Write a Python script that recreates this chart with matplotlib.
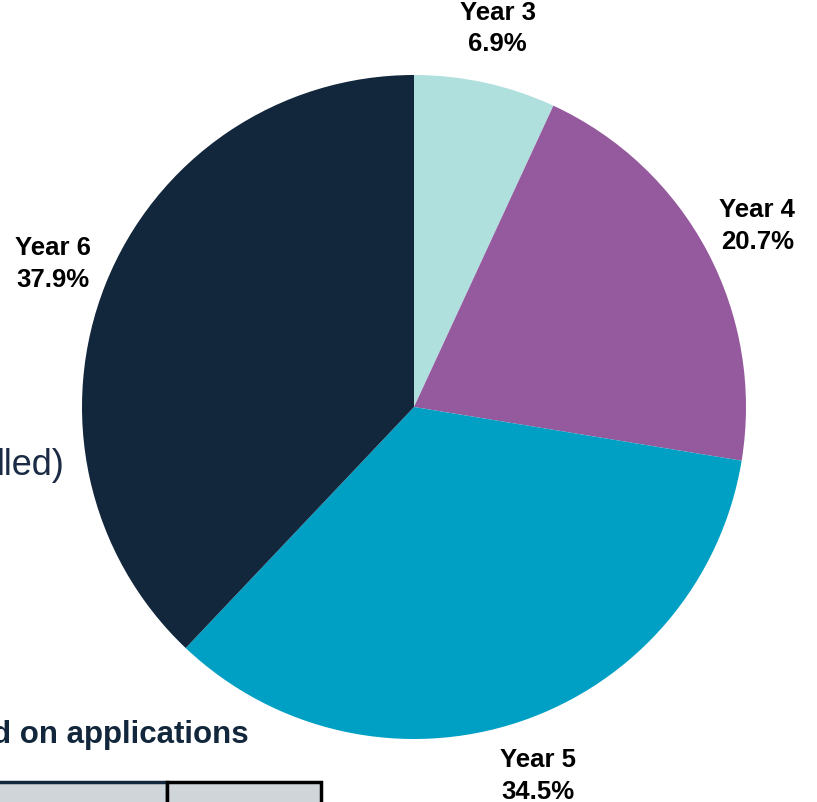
import matplotlib
matplotlib.use("Agg")
import matplotlib.pyplot as plt
from matplotlib.patches import Rectangle

plt.rcParams['font.family'] = ['Liberation Sans', 'DejaVu Sans']

years = ['Year 3', 'Year 4', 'Year 5', 'Year 6']
counts = [2, 6, 10, 11]
colors = ['#B0E0DE', '#955A9D', '#009FC4', '#12263C']

total = sum(counts)
labels = [f'{y}\n{c / total * 100:.1f}%' for y, c in zip(years, counts)]

fig = plt.figure(figsize=(8.17, 8.03), dpi=100)
ax = fig.add_axes([0, 0, 1, 1])

# bits of the slide behind the chart
ax.text(-3, 803 - 466, 'lled)', fontsize=26, color='#1B2B45', va='center', ha='left')
ax.text(-8, 803 - 735, 'd on applications', fontsize=22.5, fontweight='bold',
        color='#12263C', va='center', ha='left')
ax.add_patch(Rectangle((-5, -10), 172, 803 - 783 + 10, facecolor='#D0D5DA',
                       edgecolor='#12263C', lw=2.5))
ax.add_patch(Rectangle((167, -10), 154, 803 - 783 + 10, facecolor='#D0D5DA',
                       edgecolor='black', lw=2.5))

wedges, texts = ax.pie(counts, colors=colors, labels=labels, startangle=90,
                       counterclock=False, center=(414, 803 - 408), radius=332,
                       labeldistance=1.17, frame=True,
                       textprops=dict(fontsize=18.5, fontweight='bold', color='black',
                                      linespacing=1.4))
for t in texts:
    t.set_ha('center')
    t.set_va('center')

ax.set_xlim(0, 817)
ax.set_ylim(0, 803)
ax.set_aspect('equal')
ax.axis('off')

fig.savefig('out.png', dpi=100)
